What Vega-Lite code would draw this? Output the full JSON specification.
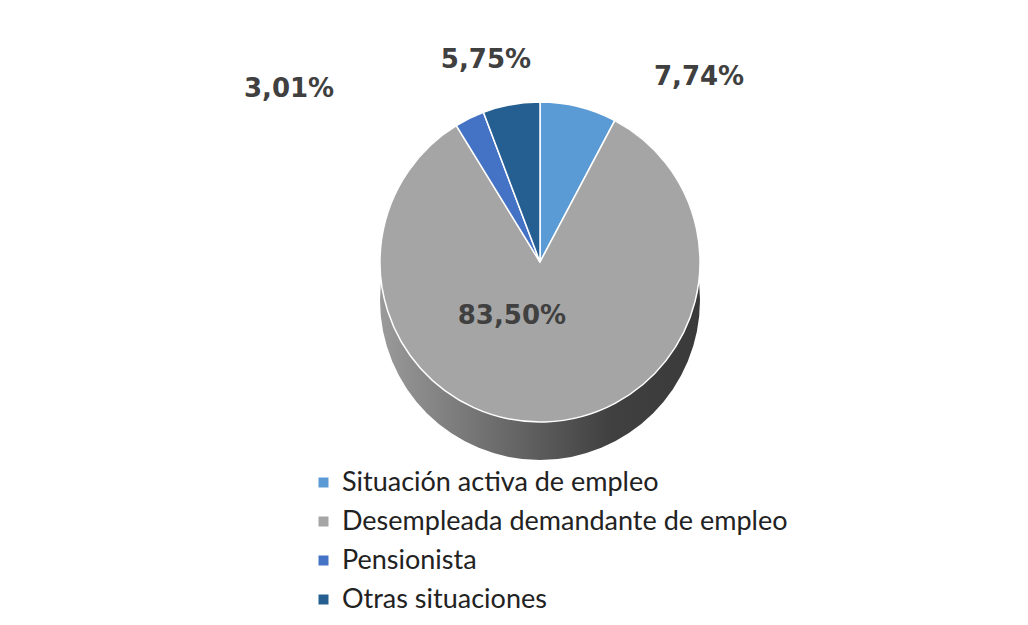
{
  "$schema": "https://vega.github.io/schema/vega-lite/v6.json",
  "width": 976,
  "height": 524,
  "padding": {"left": 52, "top": 0, "right": 0, "bottom": 0},
  "background": "white",
  "config": {
    "view": {"stroke": null},
    "locale": {"number": {"decimal": ",", "thousands": ".", "grouping": [3], "currency": ["", " €"]}}
  },
  "data": {
    "values": [
      {"situacion": "Situación activa de empleo", "orden": 1, "valor": 0.0774},
      {"situacion": "Desempleada demandante de empleo", "orden": 2, "valor": 0.835},
      {"situacion": "Pensionista", "orden": 3, "valor": 0.0301},
      {"situacion": "Otras situaciones", "orden": 4, "valor": 0.0575}
    ]
  },
  "layer": [
    {
      "transform": [{"aggregate": [{"op": "sum", "field": "valor", "as": "total"}]}],
      "mark": {
        "type": "arc",
        "radius": 160,
        "yOffset": 38,
        "color": {
          "gradient": "linear", "x1": 0, "y1": 0, "x2": 1, "y2": 0,
          "stops": [
            {"offset": 0, "color": "#9a9a9a"},
            {"offset": 0.72, "color": "#404040"},
            {"offset": 1, "color": "#3a3a3a"}
          ]
        }
      },
      "encoding": {"theta": {"field": "total", "type": "quantitative"}}
    },
    {
      "mark": {"type": "arc", "radius": 160, "stroke": "white", "strokeWidth": 1.5},
      "encoding": {
        "theta": {"field": "valor", "type": "quantitative", "stack": true},
        "order": {"field": "orden", "type": "quantitative"},
        "color": {
          "field": "situacion",
          "type": "nominal",
          "scale": {
            "domain": ["Situación activa de empleo", "Desempleada demandante de empleo", "Pensionista", "Otras situaciones"],
            "range": ["#5B9BD5", "#A5A5A5", "#4472C4", "#255E91"]
          },
          "legend": {
            "orient": "none",
            "legendX": 258,
            "legendY": 469,
            "title": null,
            "symbolType": "square",
            "symbolSize": 100,
            "symbolStrokeWidth": 0,
            "labelFontSize": 27,
            "labelFont": "Lato",
            "labelColor": "#222222",
            "rowPadding": 11,
            "labelOffset": 5,
            "labelLimit": 700
          }
        }
      }
    },
    {
      "mark": {"type": "text", "radius": 195, "align": "left", "baseline": "middle", "dx": 67, "dy": 4, "font": "DejaVu Sans", "fontWeight": "bold", "fontSize": 26, "color": "#404040"},
      "encoding": {
        "theta": {"field": "valor", "type": "quantitative", "stack": true},
        "order": {"field": "orden", "type": "quantitative"},
        "detail": {"field": "situacion", "type": "nominal"},
        "text": {"field": "valor", "type": "quantitative", "format": ".2%"},
        "opacity": {"condition": {"test": "datum.orden === 1", "value": 1}, "value": 0}
      }
    },
    {
      "mark": {"type": "text", "radius": 195, "align": "center", "baseline": "middle", "dx": -19, "dy": -10, "font": "DejaVu Sans", "fontWeight": "bold", "fontSize": 26, "color": "#404040"},
      "encoding": {
        "theta": {"field": "valor", "type": "quantitative", "stack": true},
        "order": {"field": "orden", "type": "quantitative"},
        "detail": {"field": "situacion", "type": "nominal"},
        "text": {"field": "valor", "type": "quantitative", "format": ".2%"},
        "opacity": {"condition": {"test": "datum.orden === 4", "value": 1}, "value": 0}
      }
    },
    {
      "mark": {"type": "text", "radius": 195, "align": "right", "baseline": "middle", "dx": -120, "dy": 2, "font": "DejaVu Sans", "fontWeight": "bold", "fontSize": 26, "color": "#404040"},
      "encoding": {
        "theta": {"field": "valor", "type": "quantitative", "stack": true},
        "order": {"field": "orden", "type": "quantitative"},
        "detail": {"field": "situacion", "type": "nominal"},
        "text": {"field": "valor", "type": "quantitative", "format": ".2%"},
        "opacity": {"condition": {"test": "datum.orden === 3", "value": 1}, "value": 0}
      }
    },
    {
      "mark": {"type": "text", "radius": 60, "align": "center", "baseline": "middle", "dx": -30, "dy": -6, "font": "DejaVu Sans", "fontWeight": "bold", "fontSize": 26, "color": "#404040"},
      "encoding": {
        "theta": {"field": "valor", "type": "quantitative", "stack": true},
        "order": {"field": "orden", "type": "quantitative"},
        "detail": {"field": "situacion", "type": "nominal"},
        "text": {"field": "valor", "type": "quantitative", "format": ".2%"},
        "opacity": {"condition": {"test": "datum.orden === 2", "value": 1}, "value": 0}
      }
    }
  ]
}
